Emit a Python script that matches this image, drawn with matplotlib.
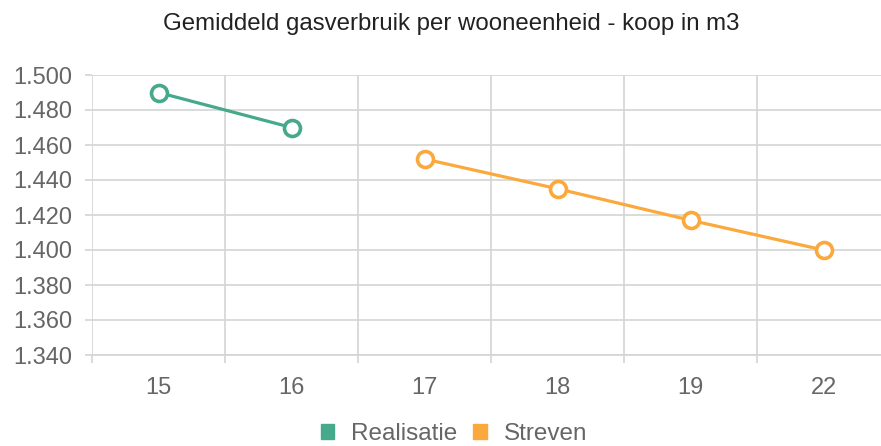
import matplotlib
matplotlib.use("Agg")
import matplotlib.pyplot as plt
from matplotlib.ticker import FuncFormatter, MultipleLocator, FixedLocator
from matplotlib.patches import Patch

plt.rcParams['font.family'] = ['Liberation Sans', 'DejaVu Sans']

# data
categories = ['15', '16', '17', '18', '19', '22']
realisatie = [1490, 1470, None, None, None, None]
streven = [None, None, 1452, 1435, 1417, 1400]

green = '#47a98b'
orange = '#fba93c'
grid_col = '#d4d4d4'
text_col = '#666666'

fig = plt.figure(figsize=(8.81, 4.46), dpi=100)
ax = fig.add_axes([92 / 881, 91 / 446, 798 / 881, 280 / 446])

x = list(range(len(categories)))
rx = [i for i, v in zip(x, realisatie) if v is not None]
ry = [v for v in realisatie if v is not None]
sx = [i for i, v in zip(x, streven) if v is not None]
sy = [v for v in streven if v is not None]

ax.plot(rx, ry, color=green, lw=2.3, marker='o', ms=11.5, mfc='white',
        mec=green, mew=2.6, zorder=3, clip_on=False)
ax.plot(sx, sy, color=orange, lw=2.3, marker='o', ms=11.5, mfc='white',
        mec=orange, mew=2.6, zorder=3, clip_on=False)

ax.set_xlim(-0.5, 5.5)
ax.set_ylim(1340, 1500)

ax.set_xticks(x)
ax.set_xticklabels(categories)
ax.xaxis.set_minor_locator(FixedLocator([i - 0.5 for i in range(len(categories) + 1)]))
ax.yaxis.set_major_locator(MultipleLocator(20))
ax.yaxis.set_major_formatter(FuncFormatter(lambda v, p: f"{v:,.0f}".replace(',', '.')))

ax.tick_params(axis='x', which='major', length=0, pad=16, labelsize=17, labelcolor=text_col)
ax.tick_params(axis='x', which='minor', length=6, width=1.2, color=grid_col)
ax.tick_params(axis='y', which='major', length=5, width=1.2, color=grid_col,
               pad=9, labelsize=17, labelcolor=text_col)

ax.grid(True, which='major', axis='y', color=grid_col, lw=1.2)
ax.grid(True, which='minor', axis='x', color=grid_col, lw=1.2)
ax.set_axisbelow(True)
for s in ax.spines.values():
    s.set_visible(False)
ax.spines['bottom'].set_visible(True)
ax.spines['bottom'].set_color(grid_col)
ax.spines['bottom'].set_linewidth(1.2)

fig.text(451 / 881, 1 - 24 / 446, 'Gemiddeld gasverbruik per wooneenheid - koop in m3',
         ha='center', va='center', fontsize=17.3, color='#222222')

handles = [Patch(color=green, label='Realisatie'), Patch(color=orange, label='Streven')]
fig.legend(handles=handles, loc='center', bbox_to_anchor=(454 / 881, 1 - 434 / 446),
           ncol=2, frameon=False, fontsize=17.5, handlelength=0.55, handleheight=0.55,
           handletextpad=0.7, columnspacing=0.65, labelcolor=text_col,
           borderpad=0, borderaxespad=0)

fig.savefig('out.png', dpi=100)
